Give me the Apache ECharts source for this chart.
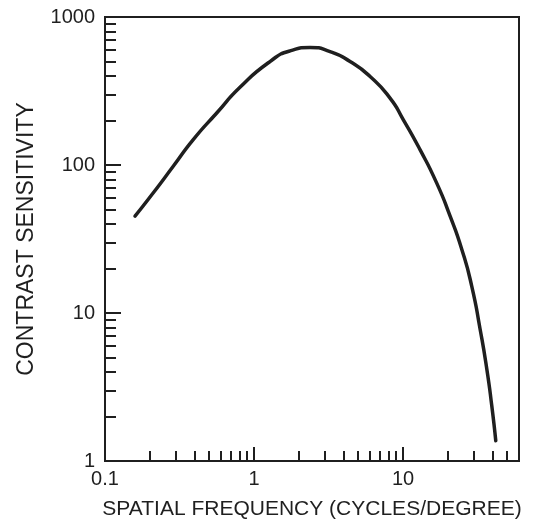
<!DOCTYPE html>
<html>
<head>
<meta charset="utf-8">
<script src="https://cdn.jsdelivr.net/npm/echarts@6/dist/echarts.min.js"></script>
<style>html,body{margin:0;padding:0;background:#fff}#c{width:538px;height:525px}</style>
</head>
<body>
<div id="c"></div>
<script>
// Spatial frequency (cycles/degree) and contrast sensitivity
var freq = [0.159, 0.211, 0.287, 0.391, 0.562, 0.805, 1.280, 1.744, 2.376, 3.236, 4.41, 6.01, 8.18, 10.05, 13.0, 16.8, 20.7, 24.8, 28.9, 32.9, 36.5, 39.4, 41.9];
var sens = [45.1, 64.9, 98.0, 148.4, 224.5, 335, 500, 590, 622, 584, 500, 396, 283, 202, 127, 75.7, 45.1, 26.9, 15.2, 7.77, 4.17, 2.36, 1.37];
var xMajor = [0.1, 1, 10];
var xMinor = [0.2, 0.3, 0.4, 0.5, 0.6, 0.7, 0.8, 0.9, 2, 3, 4, 5, 6, 7, 8, 9, 20, 30, 40, 50];
var yMajor = [1, 10, 100, 1000];
var yMinor = [2, 3, 4, 5, 6, 7, 8, 9, 20, 30, 40, 50, 60, 70, 80, 90, 200, 300, 400, 500, 600, 700, 800, 900];
var xTitle = 'SPATIAL FREQUENCY (CYCLES/DEGREE)';
var yTitle = 'CONTRAST SENSITIVITY';

var ink = '#1f1f1f';
var font = 'Liberation Sans, Arial, sans-serif';
var chart = echarts.init(document.getElementById('c'), null, {renderer: 'canvas'});
var data = freq.map(function (f, i) { return [f, sens[i]]; });

chart.setOption({
  animation: false,
  backgroundColor: '#fff',
  grid: {left: 105, right: 19, top: 17, bottom: 63, show: true, borderColor: ink, borderWidth: 2, backgroundColor: 'transparent'},
  xAxis: [{
    type: 'log', logBase: 10, min: 0.1, max: 60, position: 'bottom',
    name: xTitle, nameLocation: 'middle', nameGap: 38,
    nameTextStyle: {fontFamily: font, fontSize: 21, color: ink},
    axisLine: {show: true, lineStyle: {color: ink, width: 2}},
    axisTick: {show: true, inside: true, length: 14, lineStyle: {color: ink, width: 2}, customValues: xMajor},
    axisLabel: {show: true, margin: 8, fontFamily: font, fontSize: 20, color: ink, customValues: xMajor,
      formatter: function (v) { return String(v); }},
    splitLine: {show: false}, minorTick: {show: false}
  }, {
    type: 'log', logBase: 10, min: 0.1, max: 60, position: 'bottom',
    axisLine: {show: false},
    axisTick: {show: true, inside: true, length: 10, lineStyle: {color: ink, width: 2}, customValues: xMinor},
    axisLabel: {show: false},
    splitLine: {show: false}
  }],
  yAxis: [{
    type: 'log', logBase: 10, min: 1, max: 1000, position: 'left',
    name: yTitle, nameLocation: 'middle', nameGap: 67, nameRotate: 90,
    nameTextStyle: {fontFamily: font, fontSize: 23, color: ink},
    axisLine: {show: true, lineStyle: {color: ink, width: 2}},
    axisTick: {show: true, inside: true, length: 16, lineStyle: {color: ink, width: 2}, customValues: yMajor},
    axisLabel: {show: true, margin: 10, fontFamily: font, fontSize: 20, color: ink, customValues: yMajor,
      formatter: function (v) { return String(v); }},
    splitLine: {show: false}
  }, {
    type: 'log', logBase: 10, min: 1, max: 1000, position: 'left',
    axisLine: {show: false},
    axisTick: {show: true, inside: true, length: 11, lineStyle: {color: ink, width: 2}, customValues: yMinor},
    axisLabel: {show: false},
    splitLine: {show: false}
  }],
  series: [{
    type: 'line', xAxisIndex: 0, yAxisIndex: 0, data: data,
    smooth: 0.6, showSymbol: false, symbol: 'none',
    lineStyle: {color: ink, width: 3.5, cap: 'round'}
  }]
});
</script>
</body>
</html>
